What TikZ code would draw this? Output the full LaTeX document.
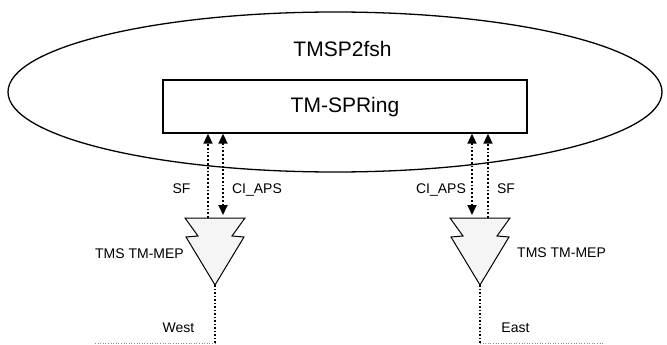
\documentclass[tikz,border=0pt]{standalone}
\usepackage{fontspec}
\setmainfont{Liberation Sans}
\usetikzlibrary{arrows.meta,shapes.geometric}
\begin{document}
\begin{tikzpicture}[x=1pt,y=-1pt,
  outline/.style={draw=black,line width=1.3pt},
  biglabel/.style={font=\fontsize{21}{24}\selectfont},
  smalllabel/.style={font=\fontsize{14}{16}\selectfont,inner sep=0pt,anchor=base},
  uptip/.style={-{Triangle[width=9pt,length=10pt]}},
  bothtips/.style={{Triangle[width=9pt,length=10pt]}-{Triangle[width=9pt,length=10pt]}},
  flow/.style={line width=1.8pt,dotted},
  drop/.style={line width=1.5pt,dotted},
  ground/.style={draw=black!45,line width=0.8pt,dash pattern=on 1pt off 1.6pt},
  mep/.pic={
    \path[outline,line width=1pt,fill=black!4]
      (-30,0) -- (30,0) -- (17,18) -- (29,19) -- (0,67) -- (-29,19) -- (-17,18) -- cycle;
    \coordinate (-top) at (0,0);
    \coordinate (-apex) at (0,67);
  }
]
\useasboundingbox (0,0) rectangle (667,345);

% outer domain and the ring node inside it
\node[ellipse,outline,minimum width=654pt,minimum height=160pt,inner sep=0pt] (dom) at (335,92) {};
\node[biglabel,anchor=base,inner sep=0pt] (domname) at (342.5,57) {TMSP2fsh};
\node[rectangle,outline,minimum width=364pt,minimum height=53pt,inner sep=0pt,
      biglabel,text height=13pt,text depth=0pt] (ring) at (345,106.5) {TM-SPRing};

% the two end points
\pic (W) at (215,218) {mep};
\pic (E) at (480,218) {mep};

% connector anchors on the end points
\coordinate (Wsf) at ([xshift=-7pt]W-top);
\coordinate (Wci) at ([xshift=8pt]W-top);
\coordinate (Eci) at ([xshift=-8pt]E-top);
\coordinate (Esf) at ([xshift=8pt]E-top);

\draw[flow,uptip] (Wsf) -- (Wsf |- ring.south);
\draw[flow,bothtips,shorten <=3pt] (Wci) -- (Wci |- ring.south);
\draw[flow,bothtips,shorten <=3pt] (Eci) -- (Eci |- ring.south);
\draw[flow,uptip] (Esf) -- (Esf |- ring.south);

\node[smalllabel] (lsfW) at (181.5,193) {SF};
\node[smalllabel] (lciW) at (257,193) {CI\_APS};
\node[smalllabel] (lciE) at (441,193) {CI\_APS};
\node[smalllabel] (lsfE) at (506,193) {SF};

\node[smalllabel,anchor=base east] (mepW) at (184,258) {TMS TM-MEP};
\node[smalllabel,anchor=base west] (mepE) at (517,257) {TMS TM-MEP};

% links leaving towards the neighbours
\coordinate (Wend) at (215,345);
\coordinate (Eend) at (480,345);
\draw[drop] (W-apex) -- (Wend);
\draw[drop] (E-apex) -- (Eend);
\coordinate (Wfar) at (95,343);
\coordinate (Efar) at (603,343);
\draw[ground] (Wfar) -- (Wend |- Wfar);
\draw[ground] (Eend |- Efar) -- (Efar);

\node[smalllabel] (west) at (178.5,332) {West};
\node[smalllabel] (east) at (515.5,332) {East};
\end{tikzpicture}
\end{document}
